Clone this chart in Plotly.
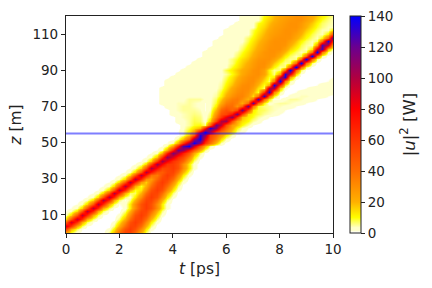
import plotly.graph_objects as go

t_step = 0.2
z_step = 2
t_values = [round(t_step * j, 1) for j in range(51)]
z_values = [z_step * i for i in range(61)]
collision_z = 55
x_ticks = [0, 2, 4, 6, 8, 10]
y_ticks = [10, 30, 50, 70, 90, 110]
bar_ticks = [0, 20, 40, 60, 80, 100, 120, 140]

# one entry per z row: index of first listed t column, then |u|^2
row_first_col = [
 0,0,0,0,0,0,0,1,2,3,4,5,6,7,8,9,10,11,12,13,14,15,16,17,18,
 19,21,22,21,22,22,21,21,20,20,19,18,18,18,18,18,19,19,20,21,22,23,24,25,26,
 26,27,28,28,29,30,30,31,32,33,33]
row_power = [
 [22,7,1,0,0,0,0,0,6,20,40,55,55,40,20,6],
 [55,20,7,1,0,0,0,0,2,12,30,50,58,50,30,12,2],
 [88,60,22,7,1,0,0,0,0,6,20,40,55,55,40,20,6],
 [45,92,62,22,7,1,0,0,0,2,12,30,50,58,50,30,12,2],
 [15,48,95,64,22,7,1,0,0,0,6,20,40,55,55,40,20,6],
 [4,15,48,96,65,22,7,1,0,0,2,12,30,50,58,50,30,12,2],
 [1,4,15,48,98,66,22,7,1,0,0,6,20,40,55,55,40,20,6],
 [1,4,15,48,99,66,22,7,1,0,2,12,30,50,58,50,30,12,2],
 [1,4,15,48,100,66,22,7,1,2,12,30,50,58,50,30,12,2],
 [1,4,15,48,100,66,22,7,1,6,20,40,55,55,40,20,6],
 [1,4,15,48,100,66,22,7,3,12,30,50,58,50,30,12,2],
 [1,4,15,48,100,66,22,7,7,20,40,55,55,40,20,6],
 [1,4,15,48,100,66,22,9,13,30,50,58,50,30,12,2],
 [1,4,15,48,100,66,22,9,21,40,55,55,40,20,6],
 [1,4,15,48,100,66,26,16,32,50,58,50,30,12,2],
 [1,4,15,48,100,66,30,26,42,55,55,40,20,6],
 [1,4,15,48,100,68,38,36,50,58,50,30,12,2],
 [1,4,15,48,100,72,48,46,54,55,40,20,6],
 [1,4,15,48,102,76,54,54,58,50,30,12,2],
 [1,4,15,52,105,80,60,58,50,30,12,2],
 [1,4,16,58,105,82,62,54,42,20,6],
 [1,4,18,62,108,88,66,54,33,12,2],
 [1,4,20,68,115,94,70,48,22,6],
 [1,4,22,70,120,108,74,46,22,6],
 [1,6,26,70,125,140,90,48,20,5],
 [1,5,22,60,105,140,110,62,38,18,4],
 [6,18,44,110,140,85,50,32,14,4],
 [5,17,48,135,110,55,40,25,12,4],
 [1,4,12,25,85,140,100,55,38,28,15,5,2],
 [3,8,14,20,70,135,110,65,40,22,10,4,1],
 [3,5,9,10,6,45,120,95,50,25,18,10,5,1],
 [3,3,5,8,7,2,15,55,100,105,50,22,14,10,5,3],
 [3,4,5,7,6,2,8,35,60,85,110,60,18,12,9,5,3,1],
 [3,3,4,5,6,5,2,6,28,50,55,75,115,55,14,10,8,5,4,3,1],
 [3,4,5,5,5,4,1,4,20,42,50,42,55,115,55,12,8,7,5,4,3,1],
 [3,3,4,5,5,4,3,1,3,12,30,40,40,28,45,118,36,9,6,5,4,4,3,3,1],
 [3,3,3,4,4,5,4,3,1,3,9,22,34,38,34,22,42,122,42,11,2,4,5,5,4,3,3,1],
 [3,3,3,3,3,5,5,5,3,3,7,16,27,34,36,30,20,40,128,42,12,1,1,3,5,5,4,3,3,1],
 [3,3,3,3,3,3,3,3,3,3,5,11,21,29,33,33,26,14,38,132,42,10,0,0,2,3,4,4,3,3,3,1],
 [3,3,3,3,3,3,3,3,3,3,4,9,17,25,30,32,29,20,9,60,135,32,5,0,0,1,3,3,3,3,3,3,3],
 [3,3,3,3,3,3,3,3,3,3,3,6,13,22,28,31,31,25,14,7,100,105,18,2,0,0,0,1,3,3,3,3,3],
 [3,3,3,3,3,3,3,3,3,3,5,11,18,25,30,31,28,19,9,22,138,60,10,1,0,0,0,0,1,3,3,3],
 [3,3,3,3,3,3,3,3,3,3,4,9,15,22,27,30,30,24,14,7,36,145,36,5,0,0,0,0,0,0,1,3],
 [3,3,3,3,3,3,3,3,3,3,7,13,19,25,29,30,28,19,9,12,90,135,24,3,0,0,0,0,0,0,1],
 [3,3,3,3,3,3,3,3,3,5,10,16,22,27,29,30,24,12,6,24,135,85,14,1],
 [3,3,3,3,3,3,3,3,8,12,17,21,25,29,30,25,11,5,7,42,148,42,7],
 [3,3,3,3,3,3,3,3,9,13,18,23,27,30,29,21,11,5,7,42,148,42,7],
 [3,3,3,3,3,3,3,6,11,16,21,26,29,30,26,17,9,5,7,42,148,40,6],
 [3,3,3,3,3,3,6,9,14,18,24,28,29,29,24,15,8,5,6,42,145,40,6],
 [3,3,3,3,3,3,7,11,16,21,26,28,29,28,21,12,7,4,8,42,145,36,5],
 [3,3,3,3,3,3,5,9,14,19,24,28,29,29,26,19,11,7,4,7,40,145,36,5],
 [3,3,3,3,3,3,7,12,17,22,26,29,29,29,24,16,10,6,4,12,90,125,20,3],
 [3,3,3,3,3,5,10,15,20,25,28,29,29,28,21,14,8,5,4,24,125,95,18],
 [3,3,3,3,3,3,8,13,18,23,27,29,29,29,25,18,11,7,4,7,40,135,60],
 [3,3,3,3,3,7,11,16,21,25,28,29,29,28,22,16,10,6,4,11,42,130],
 [3,3,3,3,3,9,14,19,24,26,28,29,29,25,20,13,8,5,4,12,50],
 [3,3,3,3,3,8,12,17,22,25,27,29,29,28,23,17,11,7,4,4,12],
 [3,3,3,3,3,11,15,20,24,26,28,29,29,26,20,14,9,6,4,4],
 [3,3,3,3,9,13,18,22,25,27,29,29,27,22,17,11,7,5,4],
 [3,3,3,3,12,16,20,24,26,28,29,29,25,20,14,9,6,4],
 [3,3,3,3,10,14,19,23,25,27,29,29,26,22,17,12,8,5],
]

power = []
for first, vals in zip(row_first_col, row_power):
    row = [0] * len(t_values)
    row[first:first + len(vals)] = vals
    power.append(row)

zmax = 140
stops = [(0, "#ffffff"), (0.6, "#ffffff"), (1.4, "#ffffcc"), (3.4, "#ffffcc"), (5, "#ffff99"),
         (8, "#ffff44"), (10, "#ffff00"), (20, "#ffb000"), (40, "#ff6c00"), (60, "#ff3600"),
         (80, "#ff0000"), (100, "#b00040"), (120, "#6a0090"), (140, "#0000ff")]
colorscale = [[v / zmax, c] for v, c in stops]

fig = go.Figure()
fig.add_trace(go.Heatmap(
    x=t_values, y=z_values, z=power, zmin=0, zmax=zmax, zsmooth="best",
    colorscale=colorscale,
    colorbar=dict(
        thicknessmode="pixels", thickness=11, lenmode="fraction", len=1,
        x=1.064, xanchor="left", xpad=0, y=0.5, yanchor="middle", ypad=0,
        outlinewidth=1, outlinecolor="#222222",
        tickvals=bar_ticks, ticks="outside", ticklen=4, tickcolor="#222222",
        tickfont=dict(size=13.5, color="#222222"),
    ),
))
fig.add_trace(go.Scatter(
    x=[t_values[0], t_values[-1]], y=[collision_z, collision_z], mode="lines",
    line=dict(color="#0000ff", width=2), opacity=0.5, showlegend=False,
))
axis_style = dict(showline=True, mirror=True, linecolor="#222222", linewidth=1.2, showgrid=False, zeroline=False,
                  ticks="outside", ticklen=4, tickcolor="#222222", tickfont=dict(size=13.5, color="#222222"))
fig.update_xaxes(range=[0, 10], tickvals=x_ticks, title=dict(text="<i>t</i> [ps]", font=dict(size=15.5, color="#222222"), standoff=6), **axis_style)
fig.update_yaxes(range=[0, 120], tickvals=y_ticks, title=dict(text="<i>z</i> [m]", font=dict(size=15.5, color="#222222"), standoff=6), **axis_style)
fig.update_layout(
    width=432, height=288, autosize=False,
    margin=dict(l=66, r=99, t=16, b=55),
    font=dict(family="DejaVu Sans"),
    paper_bgcolor="white", plot_bgcolor="white",
    annotations=[dict(
        text="|<i>u</i>|<sup>2</sup> [W]", textangle=-90, showarrow=False,
        xref="paper", yref="paper", x=1.28, y=0.5, xanchor="center", yanchor="middle",
        font=dict(size=16.5, color="#222222"),
    )],
)
fig.write_html("out.html", config={"displayModeBar": False}, post_script="document.body.style.margin='0';")
